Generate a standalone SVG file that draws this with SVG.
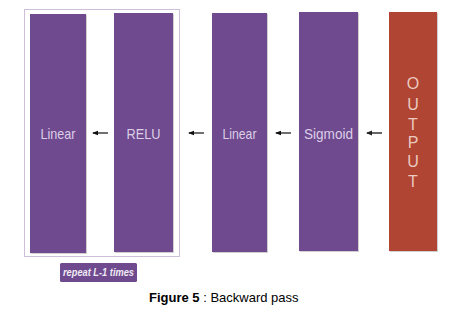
<svg xmlns="http://www.w3.org/2000/svg" width="458" height="313" viewBox="0 0 458 313">
<defs>
<marker id="ah" markerWidth="6" markerHeight="6" refX="5" refY="3" orient="auto" markerUnits="userSpaceOnUse">
<path d="M0,0.8 L6,3 L0,5.2 Z" fill="#111"/>
</marker>
<marker id="ah2" markerWidth="6" markerHeight="6" refX="5" refY="3" orient="auto" markerUnits="userSpaceOnUse">
<path d="M0,0.5 L6,3 L0,5.5 Z" fill="#222"/>
</marker>
</defs>
<style>
.box{fill:#6f4a8e}
.out{fill:#b04533}
.sh{fill:#cfcfcf}
.lbl{font-family:"Liberation Sans",Arial,sans-serif;font-size:15px;fill:#dccfe8;text-anchor:middle}
.olbl{font-family:"Liberation Sans",Arial,sans-serif;font-size:16px;fill:#ecc9bf;text-anchor:middle}
.arr{stroke:#111;stroke-width:1.2;fill:none}
.cap{font-family:"Liberation Sans",Arial,sans-serif;font-size:13px;fill:#000}
</style>
<rect width="458" height="313" fill="#fff"/>
<rect id="repeat-frame" x="24.5" y="9.5" width="155" height="247" fill="none" stroke="#9a7fb5" stroke-width="1" stroke-dasharray="1,1"/>
<g id="linear1">
<rect class="sh" x="31" y="15" width="56" height="239"/>
<rect class="box" x="30" y="14" width="56" height="239"/>
<text class="lbl" x="58" y="139" textLength="35" lengthAdjust="spacingAndGlyphs">Linear</text>
</g>
<g id="relu">
<rect class="sh" x="115" y="14" width="59" height="239"/>
<rect class="box" x="114" y="13" width="59" height="239"/>
<text class="lbl" x="143.5" y="139" textLength="34" lengthAdjust="spacingAndGlyphs">RELU</text>
</g>
<g id="linear2">
<rect class="sh" x="213" y="14" width="55" height="239"/>
<rect class="box" x="212" y="13" width="55" height="239"/>
<text class="lbl" x="239.5" y="139" textLength="34" lengthAdjust="spacingAndGlyphs">Linear</text>
</g>
<g id="sigmoid">
<rect class="sh" x="300" y="13" width="59" height="239"/>
<rect class="box" x="299" y="12" width="59" height="239"/>
<text class="lbl" x="328.5" y="139" textLength="49" lengthAdjust="spacingAndGlyphs">Sigmoid</text>
</g>
<g id="output">
<rect class="sh" x="390" y="13" width="48" height="239"/>
<rect class="out" x="389" y="12" width="48" height="239"/>
<text class="olbl" x="413" y="89">O</text>
<text class="olbl" x="413" y="110">U</text>
<text class="olbl" x="413" y="130">T</text>
<text class="olbl" x="413" y="148">P</text>
<text class="olbl" x="413" y="167">U</text>
<text class="olbl" x="413" y="187">T</text>
</g>
<g id="connectors">
<line class="arr" x1="108" y1="133" x2="93" y2="133" marker-end="url(#ah)"/>
<line class="arr" x1="204" y1="133" x2="189" y2="133" marker-end="url(#ah)"/>
<line class="arr" x1="291" y1="133" x2="276" y2="133" marker-end="url(#ah)"/>
<line x1="382" y1="133" x2="367" y2="133" stroke="#666" stroke-width="2" marker-end="url(#ah2)"/>
</g>
<g id="repeat-label">
<rect x="60" y="263" width="77" height="19" rx="1.5" fill="#6f4a8e"/>
<text x="98.5" y="276" font-family="'Liberation Sans',Arial,sans-serif" font-size="10" font-weight="bold" font-style="italic" fill="#f0ebf5" text-anchor="middle" textLength="71" lengthAdjust="spacingAndGlyphs">repeat L-1 times</text>
</g>
<text class="cap" x="149" y="302"><tspan font-weight="bold">Figure 5</tspan> : Backward pass</text>
</svg>
